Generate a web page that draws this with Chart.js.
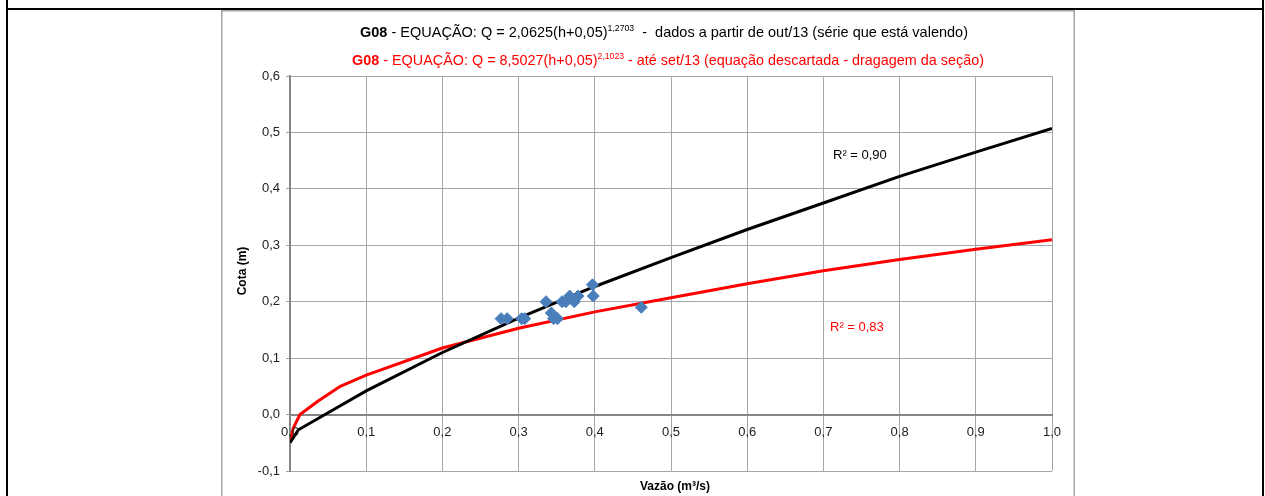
<!DOCTYPE html>
<html>
<head>
<meta charset="utf-8">
<title>G08 - curva-chave</title>
<script src="https://cdn.jsdelivr.net/npm/chart.js@4.4.1/dist/chart.umd.min.js"></script>
<style>
    html, body { margin: 0; padding: 0; background: #fff; }
    #wrap { width: 1265px; height: 496px; }
</style>
</head>
<body>
<div id="wrap"><canvas id="grafico" width="1265" height="496"></canvas></div>
<script>
// medições de campo (vazão m3/s x cota m)
const medVazao = [0.277, 0.285, 0.304, 0.308, 0.336, 0.343, 0.346, 0.351, 0.357, 0.362, 0.367, 0.373, 0.378, 0.397, 0.398, 0.461];
const medCota  = [0.17, 0.17, 0.17, 0.17, 0.20, 0.18, 0.17, 0.17, 0.20, 0.20, 0.21, 0.20, 0.21, 0.23, 0.21, 0.19];

// curva atual (a partir de out/13)
const curvaAtualVazao = [0, 0.011, 0.046, 0.1, 0.2, 0.3, 0.4, 0.5, 0.6, 0.7, 0.8, 0.9, 1.0];
const curvaAtualCota  = [-0.05, -0.027, 0.0, 0.042, 0.11, 0.171, 0.227, 0.278, 0.328, 0.375, 0.422, 0.465, 0.507];

// curva descartada (até set/13)
const curvaAntigaVazao = [0, 0.004, 0.013, 0.037, 0.066, 0.1, 0.2, 0.3, 0.4, 0.5, 0.6, 0.7, 0.8, 0.9, 1.0];
const curvaAntigaCota  = [-0.05, -0.025, 0.0, 0.024, 0.05, 0.07, 0.118, 0.153, 0.182, 0.207, 0.232, 0.255, 0.275, 0.293, 0.31];

// rótulos dos eixos
const xTickLabels = ['0,0', '0,1', '0,2', '0,3', '0,4', '0,5', '0,6', '0,7', '0,8', '0,9', '1,0'];
const yTickLabels = ['-0,1', '0,0', '0,1', '0,2', '0,3', '0,4', '0,5', '0,6'];

const FONTE = '"Liberation Sans", Arial, sans-serif';

// títulos (partes com negrito / sobrescrito)
const titulo1 = [
    { t: 'G08', b: true },
    { t: ' - EQUAÇÃO: Q = 2,0625(h+0,05)' },
    { t: '1,2703', sup: true },
    { t: '  -  dados a partir de out/13 (série que está valendo)' }
];
const titulo2 = [
    { t: 'G08', b: true },
    { t: ' - EQUAÇÃO: Q = 8,5027(h+0,05)' },
    { t: '2,1023', sup: true },
    { t: ' - até set/13 (equação descartada - dragagem da seção)' }
];

function pares(xs, ys) {
    return xs.map((x, i) => ({ x: x, y: ys[i] }));
}

function fontePara(p) {
    if (p.sup) return '9px ' + FONTE;
    return (p.b ? 'bold ' : '') + '15px ' + FONTE;
}

/**
 * Desenha uma linha de título ajustada entre x0 e x1
 */
function linhaTitulo(ctx, partes, x0, x1, yBase, cor) {
    let total = 0;
    partes.forEach(p => { ctx.font = fontePara(p); total += ctx.measureText(p.t).width; });
    const esc = (x1 - x0) / total;
    ctx.save();
    ctx.translate(x0, yBase);
    ctx.scale(esc, 1);
    ctx.fillStyle = cor;
    ctx.textBaseline = 'alphabetic';
    ctx.textAlign = 'left';
    let x = 0;
    partes.forEach(p => {
        ctx.font = fontePara(p);
        ctx.fillText(p.t, x, p.sup ? -6 : 0);
        x += ctx.measureText(p.t).width;
    });
    ctx.restore();
}

// moldura da planilha e caixa do gráfico
const moldura = {
    id: 'moldura',
    beforeDraw(chart) {
        const ctx = chart.ctx;
        ctx.save();
        ctx.fillStyle = '#fff';
        ctx.fillRect(0, 0, chart.width, chart.height);
        ctx.fillStyle = '#000';
        ctx.fillRect(6, 0, 2, 496);
        ctx.fillRect(1262, 0, 2, 496);
        ctx.fillRect(6, 8, 1258, 2);
        ctx.strokeStyle = '#a6a6a6';
        ctx.lineWidth = 1.5;
        ctx.strokeRect(221.75, 10.75, 852.5, 500);
        ctx.restore();
    },
    afterDatasetsDraw(chart) {
        // rótulos do eixo x por cima das curvas (como no Excel)
        const ctx = chart.ctx;
        const sx = chart.scales.x;
        const y0 = chart.scales.y.getPixelForValue(0);
        ctx.save();
        ctx.font = '13px ' + FONTE;
        ctx.fillStyle = '#222';
        ctx.textAlign = 'center';
        ctx.textBaseline = 'middle';
        sx.ticks.forEach((t, i) => {
            ctx.fillText(xTickLabels[i], sx.getPixelForValue(t.value), y0 + 18);
        });
        ctx.restore();
    },
    afterDraw(chart) {
        const ctx = chart.ctx;
        ctx.save();
        linhaTitulo(ctx, titulo1, 360, 968, 36.5, '#000');
        linhaTitulo(ctx, titulo2, 352, 984, 65, '#ff0000');

        // títulos dos eixos
        ctx.font = 'bold 12px ' + FONTE;
        ctx.fillStyle = '#000';
        ctx.textAlign = 'center';
        ctx.textBaseline = 'middle';
        ctx.fillText('Vazão (m³/s)', 675, 487);
        ctx.save();
        ctx.translate(243, 271);
        ctx.rotate(-Math.PI / 2);
        ctx.fillText('Cota (m)', 0, 0);
        ctx.restore();

        // coeficientes
        ctx.font = '13px ' + FONTE;
        ctx.textAlign = 'left';
        ctx.fillStyle = '#000';
        ctx.fillText('R² = 0,90', 833, 155);
        ctx.fillStyle = '#ff0000';
        ctx.fillText('R² = 0,83', 830, 327);
        ctx.restore();
    }
};

const ctx = document.getElementById('grafico').getContext('2d');
new Chart(ctx, {
    type: 'scatter',
    data: {
        datasets: [
            {
                label: 'Medições',
                data: pares(medVazao, medCota),
                pointStyle: 'rectRot',
                pointRadius: 6,
                backgroundColor: '#4a7ebb',
                borderColor: '#4a7ebb',
                borderWidth: 1
            },
            {
                label: 'Curva atual',
                data: pares(curvaAtualVazao, curvaAtualCota),
                showLine: true,
                pointRadius: 0,
                borderColor: '#000',
                borderWidth: 3,
                tension: 0
            },
            {
                label: 'Curva descartada',
                data: pares(curvaAntigaVazao, curvaAntigaCota),
                showLine: true,
                pointRadius: 0,
                borderColor: '#ff0000',
                borderWidth: 3,
                tension: 0
            }
        ]
    },
    options: {
        responsive: false,
        animation: false,
        devicePixelRatio: 1,
        layout: { padding: { left: 230, right: 213, top: 76, bottom: 25 } },
        plugins: {
            legend: { display: false },
            tooltip: { enabled: false }
        },
        scales: {
            x: {
                type: 'linear',
                position: { y: 0 },
                min: 0,
                max: 1,
                ticks: {
                    stepSize: 0.1,
                    autoSkip: false,
                    maxRotation: 0,
                    padding: 7,
                    color: 'rgba(0,0,0,0)',
                    font: { family: FONTE, size: 13 },
                    callback: (v, i) => xTickLabels[i]
                },
                grid: { color: '#a6a6a6', lineWidth: 1, tickLength: 4 },
                border: { color: '#868686', width: 2 }
            },
            y: {
                type: 'linear',
                min: -0.1,
                max: 0.6,
                ticks: {
                    stepSize: 0.1,
                    padding: 6,
                    color: '#222',
                    font: { family: FONTE, size: 13 },
                    callback: (v, i) => yTickLabels[i]
                },
                grid: { color: '#a6a6a6', lineWidth: 1, tickLength: 4 },
                border: { color: '#868686', width: 2 },
                afterFit: s => { s.width = 60; }
            }
        }
    },
    plugins: [moldura]
});
</script>
</body>
</html>
